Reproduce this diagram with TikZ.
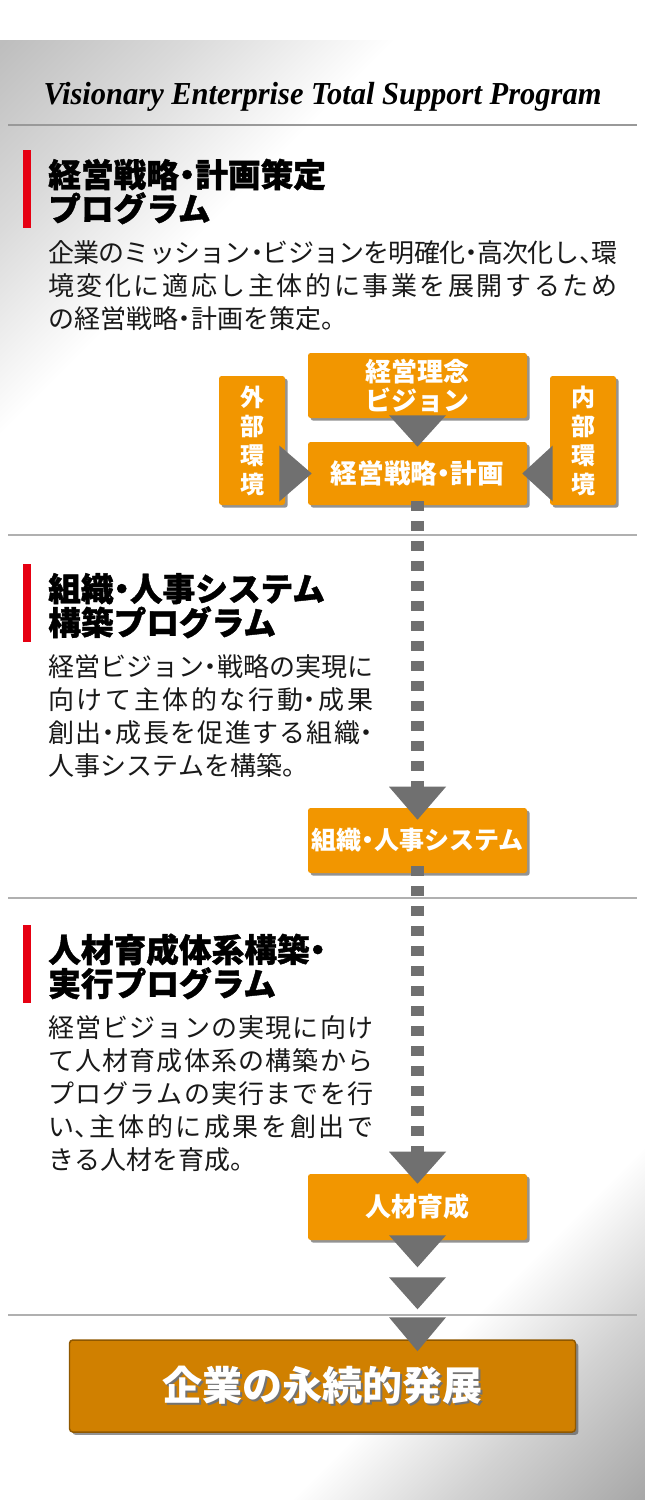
\documentclass[tikz,border=0pt]{standalone}
\usepackage{fontspec}
\setmainfont{Liberation Serif}
\newfontfamily\jp{Noto Sans CJK JP}[RawFeature=+halt]
\newfontfamily\jph{Noto Sans CJK JP}[RawFeature=+halt, BoldFeatures={FakeBold=1.2}]
\XeTeXlinebreaklocale "ja"
\XeTeXlinebreakskip=0pt plus 10pt minus 1pt
\usetikzlibrary{shadows,calc}
\definecolor{orng}{HTML}{F29600}
\definecolor{darkorng}{HTML}{D08000}
\definecolor{brd}{HTML}{8F5800}
\definecolor{arrowgray}{HTML}{707070}
\definecolor{sepline}{HTML}{B0B0B0}
\definecolor{redbar}{HTML}{E60012}
\definecolor{bgA}{HTML}{BEBEBE}
\definecolor{bgAm}{HTML}{DADADA}
\definecolor{bgB}{HTML}{A8A8A8}
\definecolor{bgBm}{HTML}{D2D2D2}
\pgfdeclareverticalshading{bgshade}{100bp}{color(0bp)=(bgB); color(24.5bp)=(bgB); color(29bp)=(bgBm); color(33bp)=(white); color(66bp)=(white); color(71bp)=(bgAm); color(75.5bp)=(bgA); color(100bp)=(bgA)}
\newcommand{\txtshadow}[1]{\makebox[0pt][l]{\kern1.3pt\raisebox{-1.3pt}{\textcolor{black!55}{#1}}}#1}
\begin{document}
\begin{tikzpicture}[x=0.75pt,y=-0.75pt,
  sep/.style={draw=sepline, line width=1.1pt},
  redmark/.style={fill=redbar},
  sectitle/.style={anchor=base west, inner sep=0, align=left, text=black,
    font=\jph\bfseries\fontsize{24.5pt}{25.5pt}\selectfont},
  secbody/.style={anchor=base west, inner sep=0, align=justify, text=black!90,
    font=\jp\fontsize{19.5pt}{24.75pt}\selectfont},
  obox/.style={fill=orng, rounded corners=2pt, text=white, align=center, inner sep=0,
    font=\jp\bfseries\fontsize{19.5pt}{21.75pt}\selectfont,
    drop shadow={shadow xshift=2pt, shadow yshift=-2pt, fill=black!70, opacity=0.6}},
  vbox/.style={obox, font=\jp\bfseries\fontsize{18pt}{21.75pt}\selectfont,
    minimum width=49.5pt, minimum height=96.75pt},
  finalbox/.style={fill=darkorng, draw=brd, line width=1.1pt, rounded corners=2.5pt,
    text=white, inner sep=0, minimum width=379.5pt, minimum height=69pt,
    font=\jp\bfseries\fontsize{30pt}{32pt}\selectfont,
    drop shadow={shadow xshift=2.2pt, shadow yshift=-2.2pt, fill=black!70, opacity=0.6}},
  sqdash/.style={draw=arrowgray, line width=9.75pt, dash pattern=on 7.5pt off 7.5pt},
  tri/.style={fill=arrowgray}]
\useasboundingbox (0,0) rectangle (645,1500);
\fill[white] (0,0) rectangle (645,1500);
\begin{scope}
  \clip (0,40) rectangle (645,1500);
  \shade[shading=bgshade, shading angle=45] (-407.5,40) rectangle (1052.5,1500);
\end{scope}

% header
\node[anchor=base, inner sep=0, font=\fontsize{24pt}{28pt}\selectfont\bfseries\itshape] (head) at (322.5,104)
  {\resizebox{418.5pt}{\height}{Visionary Enterprise Total Support Program}};
\draw[sep, draw=black!40, line width=0.8pt] (8,125) -- (637,125);
\draw[sep] (8,535) -- (637,535);
\draw[sep] (8,898) -- (637,898);
\draw[sep] (8,1315) -- (637,1315);

% section 1 (titles: base = last line; bodies with text width: base = first line)
\fill[redmark] (23,150) rectangle (31,228);
\node[sectitle] (s1title) at (48,221) {経営戦略・計画策定\\プログラム};
\node[secbody, text width=426.75pt] (s1body) at (48,262) {企業のミッション・ビジョンを明確化・高次化し、環\linebreak 境変化に適応し主体的に事業を展開するため\linebreak の経営戦略・計画を策定。};

% section 2
\fill[redmark] (23,564) rectangle (31,642);
\node[sectitle] (s2title) at (48,635) {組織・人事システム\\構築プログラム};
\node[secbody, text width=243.75pt] (s2body) at (48,676) {経営ビジョン・戦略の実現に\linebreak 向けて主体的な行動・成果\linebreak 創出・成長を促進する組織・\linebreak 人事システムを構築。};

% section 3
\fill[redmark] (23,925) rectangle (31,1003);
\node[sectitle] (s3title) at (48,996) {人材育成体系構築・\\実行プログラム};
\node[secbody, text width=243.75pt] (s3body) at (48,1037) {経営ビジョンの実現に向け\linebreak て人材育成体系の構築から\linebreak プログラムの実行までを行\linebreak い、主体的に成果を創出で\linebreak きる人材を育成。};

% boxes
\node[obox, minimum width=164.25pt, minimum height=48.75pt] (vision) at (417.5,385.5) {経営理念\\ビジョン};
\node[obox, minimum width=164.25pt, minimum height=47.25pt, font=\jp\bfseries\fontsize{20pt}{22pt}\selectfont] (strat) at (417.5,473.5) {経営戦略・計画};
\node[vbox] (outer) at (252,440.5) {外\\部\\環\\境};
\node[vbox] (inner) at (583,440.5) {内\\部\\環\\境};
\node[obox, minimum width=164.25pt, minimum height=48.75pt, font=\jp\bfseries\fontsize{18.75pt}{22pt}\selectfont] (org) at (417.5,840.5) {組織・人事システム};
\node[obox, minimum width=164.25pt, minimum height=49.5pt] (hr) at (417.5,1207) {人材育成};
\node[finalbox] (final) at (322.5,1386) {\txtshadow{企業の永続的発展}};

% connectors
\fill[tri] ($(vision.south)+(-28.5,-3)$) -- ($(vision.south)+(28.5,-3)$) -- ($(strat.north)+(0,5)$) -- cycle;
\fill[tri] ($(outer.east |- strat.center)+(-6,-28)$) -- ($(outer.east |- strat.center)+(-6,28)$) -- ($(strat.west)+(4,0)$) -- cycle;
\fill[tri] ($(inner.west |- strat.center)+(3,-28)$) -- ($(inner.west |- strat.center)+(3,28)$) -- ($(strat.east)+(-5,0)$) -- cycle;

\draw[sqdash] ($(strat.south)+(0,-4)$) -- ($(org.north)+(0,-17)$);
\fill[tri] ($(org.north)+(-28.5,-21)$) -- ($(org.north)+(28.5,-21)$) -- ($(org.north)+(0,12)$) -- cycle;
\draw[sqdash] ($(org.south)+(0,-7)$) -- ($(hr.north)+(0,-18)$);
\fill[tri] ($(hr.north)+(-28.5,-22)$) -- ($(hr.north)+(28.5,-22)$) -- ($(hr.north)+(0,10)$) -- cycle;
\fill[tri] ($(hr.south)+(-28.5,-5)$) -- ($(hr.south)+(28.5,-5)$) -- ($(hr.south)+(0,27)$) -- cycle;
\coordinate (midtri) at ($(hr.south)+(0,37)$);
\fill[tri] ($(midtri)+(-28.5,0)$) -- ($(midtri)+(28.5,0)$) -- ($(midtri)+(0,32)$) -- cycle;
\coordinate (fintop) at (hr.south |- final.north);
\fill[tri] ($(fintop)+(-28.5,-22)$) -- ($(fintop)+(28.5,-22)$) -- ($(fintop)+(0,12)$) -- cycle;
\end{tikzpicture}
\end{document}
